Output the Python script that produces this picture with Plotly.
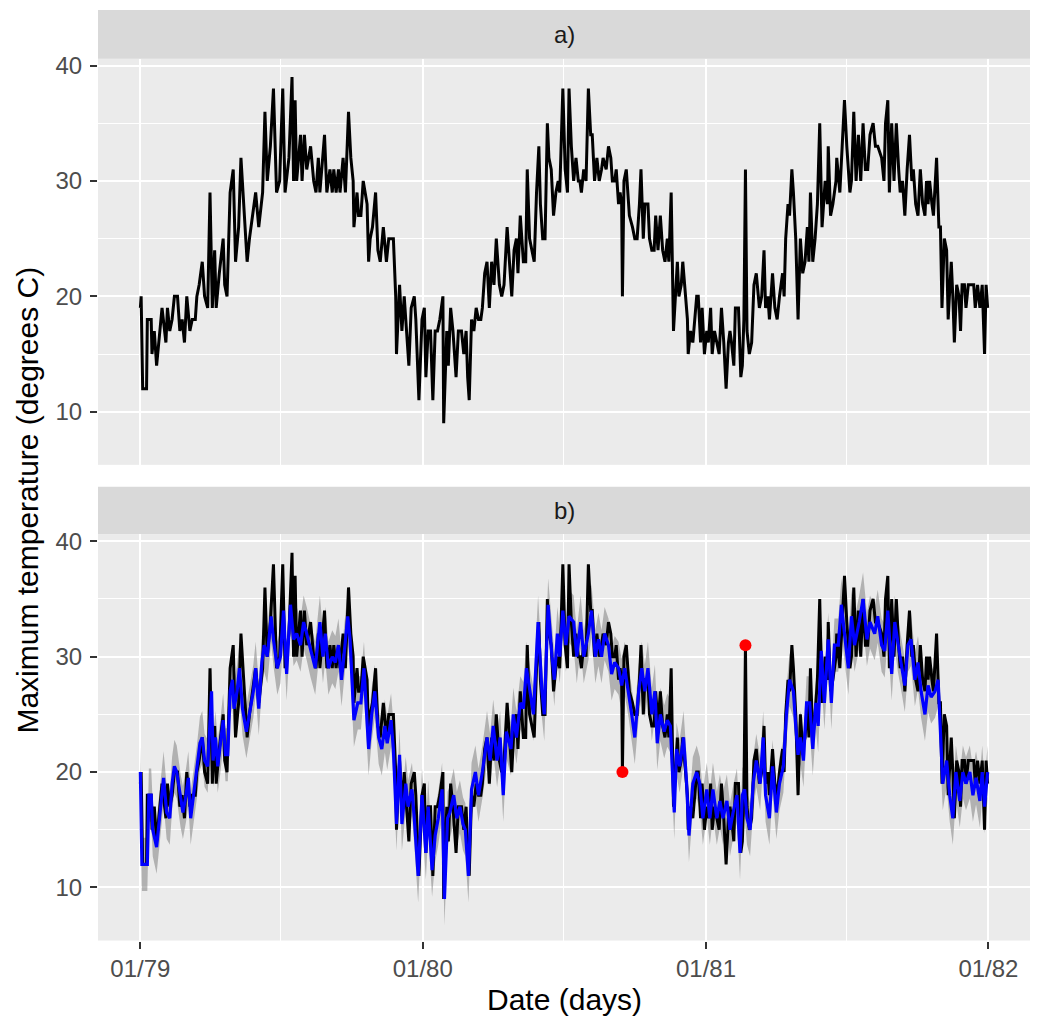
import pandas as pd
import plotly.graph_objects as go

# ---------------- data ----------------
start_date = "1979-01-01"

# observed daily maximum temperature: day offset from 1979-01-01 and value
obs_day = [
    0, 1, 3, 8, 9, 12, 14, 15, 18, 21, 25, 28, 33, 35, 38, 41, 44, 48, 51, 54,
    57, 60, 64, 67, 71, 73, 76, 80, 83, 87, 90, 93, 96, 98, 102, 107, 109, 112, 116, 120,
    123, 127, 130, 134, 138, 141, 145, 149, 153, 158, 161, 164, 168, 172, 176, 180, 184, 187, 192, 196,
    198, 200, 202, 207, 209, 212, 215, 220, 224, 227, 230, 232, 238, 241, 245, 248, 250, 253, 256, 258,
    262, 265, 269, 272, 275, 276, 280, 282, 285, 288, 293, 295, 297, 300, 304, 307, 310, 314, 318, 321,
    327, 330, 331, 335, 338, 341, 344, 347, 350, 354, 356, 360, 364, 367, 369, 372, 375, 378, 381, 384,
    387, 391, 392, 396, 398, 401, 404, 408, 411, 415, 418, 421, 423, 425, 428, 431, 434, 437, 440, 442,
    445, 448, 451, 454, 457, 460, 464, 467, 470, 474, 478, 480, 483, 486, 488, 491, 495, 498, 500, 503,
    506, 509, 512, 515, 517, 520, 523, 526, 528, 531, 534, 537, 540, 542, 546, 549, 552, 554, 557, 560,
    563, 566, 568, 570, 573, 576, 579, 582, 584, 587, 590, 593, 596, 598, 602, 605, 608, 610, 613, 615,
    618, 620, 622, 623, 625, 628, 632, 636, 639, 642, 645, 647, 650, 652, 656, 658, 661, 664, 666, 669,
    672, 675, 678, 681, 683, 686, 689, 692, 694, 696, 699, 701, 705, 707, 708, 711, 714, 719, 721, 724,
    726, 729, 732, 734, 737, 739, 742, 745, 748, 751, 754, 757, 760, 762, 764, 767, 769, 773, 776, 778,
    780, 782, 784, 787, 790, 793, 796, 800, 803, 806, 808, 811, 813, 817, 820, 823, 826, 830, 832, 834,
    837, 839, 842, 844, 847, 850, 853, 856, 859, 862, 864, 866, 869, 872, 875, 878, 881, 885, 888, 889,
    892, 895, 899, 900, 904, 907, 910, 913, 917, 919, 922, 925, 928, 931, 934, 937, 940, 943, 947, 950,
    953, 958, 961, 963, 966, 968, 971, 974, 977, 980, 982, 985, 988, 991, 994, 997, 999, 1002, 1005, 1008,
    1011, 1014, 1016, 1018, 1020, 1023, 1025, 1029, 1032, 1034, 1036, 1039, 1042, 1044, 1048, 1050, 1052, 1055, 1058, 1060,
    1062, 1065, 1067, 1070, 1074, 1077, 1079, 1082, 1085, 1088, 1091, 1093, 1095,
]
obs_val = [
    19, 20, 12, 12, 18, 18, 18, 15, 17, 14, 17, 19, 16, 19, 17, 18, 20, 20, 17, 18,
    16, 20, 17, 18, 18, 20, 21, 23, 20, 19, 29, 19, 24, 19, 22, 25, 21, 20, 29, 31,
    23, 26, 32, 27, 23, 25, 27, 29, 26, 29, 36, 30, 33, 38, 29, 30, 38, 29, 32, 39,
    30, 37, 30, 34, 30, 34, 31, 33, 30, 29, 32, 29, 34, 29, 31, 29, 31, 29, 31, 29,
    32, 29, 36, 32, 30, 26, 29, 27, 27, 30, 28, 23, 25, 26, 29, 24, 23, 26, 23, 25,
    25, 20, 15, 21, 17, 20, 17, 14, 19, 20, 18, 11, 18, 19, 13, 17, 17, 11, 17, 17,
    18, 20, 9, 17, 14, 19, 17, 13, 17, 17, 15, 17, 13, 11, 18, 17, 19, 18, 18, 19,
    22, 23, 19, 23, 21, 25, 21, 20, 21, 26, 22, 20, 24, 25, 22, 27, 23, 23, 31, 25,
    24, 23, 29, 33, 28, 25, 25, 35, 32, 31, 27, 29, 30, 29, 38, 31, 29, 38, 33, 30,
    32, 30, 30, 29, 31, 30, 38, 34, 34, 30, 32, 30, 31, 32, 31, 33, 32, 30, 30, 31,
    28, 29, 28, 20, 30, 31, 27, 26, 25, 25, 28, 31, 25, 28, 28, 25, 24, 24, 27, 24,
    27, 24, 23, 25, 23, 29, 17, 21, 23, 20, 21, 23, 20, 18, 15, 17, 16, 20, 20, 16,
    19, 15, 17, 16, 19, 15, 17, 16, 15, 19, 16, 12, 16, 17, 16, 14, 19, 19, 13, 14,
    18, 31, 17, 15, 16, 21, 22, 19, 20, 24, 19, 20, 18, 22, 19, 18, 20, 22, 20, 25,
    28, 27, 31, 29, 25, 18, 25, 22, 23, 26, 23, 29, 23, 25, 28, 35, 26, 30, 28, 33,
    27, 28, 30, 32, 29, 33, 37, 33, 29, 30, 36, 30, 34, 30, 35, 31, 31, 34, 35, 33,
    33, 32, 30, 35, 37, 29, 35, 30, 35, 31, 29, 30, 27, 31, 34, 30, 31, 28, 27, 31,
    28, 27, 30, 28, 30, 28, 27, 32, 26, 26, 19, 25, 24, 18, 23, 20, 16, 21, 20, 17,
    21, 21, 19, 21, 21, 21, 19, 21, 19, 21, 15, 21, 19,
]

# fitted values (blue line) : day offset and value
fit_day = [
    0, 2, 9, 11, 14, 16, 21, 26, 30, 34, 38, 41, 44, 47, 52, 55, 59, 62, 65, 69,
    73, 77, 80, 83, 87, 92, 94, 97, 100, 103, 107, 110, 113, 116, 119, 121, 125, 128, 132, 137,
    141, 146, 149, 153, 157, 160, 164, 169, 172, 177, 181, 185, 189, 194, 198, 202, 207, 211, 215, 220,
    226, 232, 236, 239, 243, 248, 252, 256, 260, 263, 268, 271, 276, 281, 285, 289, 295, 299, 303, 308,
    312, 316, 319, 324, 327, 331, 335, 338, 343, 346, 351, 354, 359, 364, 369, 372, 377, 381, 385, 390,
    393, 397, 400, 405, 409, 413, 417, 420, 424, 428, 433, 437, 442, 448, 452, 456, 461, 465, 469, 473,
    479, 482, 486, 491, 495, 499, 504, 508, 514, 519, 522, 527, 532, 535, 539, 542, 546, 550, 554, 560,
    564, 569, 573, 579, 583, 588, 592, 596, 600, 605, 609, 613, 618, 622, 626, 631, 635, 639, 644, 648,
    652, 656, 661, 665, 668, 672, 677, 681, 685, 690, 693, 697, 702, 706, 709, 714, 719, 723, 727, 732,
    736, 740, 745, 749, 753, 758, 762, 766, 771, 775, 778, 781, 784, 788, 792, 796, 801, 805, 808, 813,
    817, 822, 826, 831, 835, 839, 844, 847, 850, 853, 857, 861, 865, 869, 873, 876, 880, 884, 889, 893,
    897, 902, 906, 910, 915, 919, 923, 929, 934, 939, 943, 949, 953, 958, 962, 966, 971, 975, 979, 983,
    988, 992, 996, 1001, 1005, 1009, 1014, 1018, 1022, 1027, 1031, 1035, 1037, 1042, 1046, 1050, 1054, 1059, 1063, 1067,
    1072, 1076, 1080, 1085, 1088, 1091, 1095,
]
fit_val = [
    20, 12, 12, 18, 18, 15, 13.5, 17, 19.5, 16.5, 16, 19, 20.5, 20, 17.5, 16.5, 18, 19.5, 16, 18,
    20, 22.5, 23, 21, 20.5, 27, 21, 23, 20.5, 22, 24.5, 21.5, 21.5, 27, 28, 25.5, 27, 29, 25.5, 23.5,
    25, 27, 29, 25.5, 29.5, 31, 30, 33.5, 31.5, 29, 30, 34, 28.5, 34.5, 31.5, 32, 31, 33, 32, 30.5,
    29, 33, 30, 32, 29, 30, 29.5, 31, 28, 30, 33.5, 31.5, 24.5, 26, 26, 29, 22, 25, 27, 23,
    22, 24, 22.5, 24.5, 22, 15.5, 21.5, 15.5, 19, 17, 18.5, 16, 11, 18, 13, 17, 11.5, 14.5, 16, 18.5,
    9, 16, 16.5, 18, 16, 17, 15.5, 15, 11, 18.5, 20, 18, 20, 23, 21, 24, 21, 23, 18, 23.5,
    22, 25, 23, 26, 25.5, 29, 26.5, 25, 33, 27, 25, 34.5, 30, 28, 32, 30, 34, 31, 33.5, 33,
    30, 33, 30, 32, 34, 30, 31.5, 30, 32, 31, 28.5, 29.5, 29, 27.5, 29, 27, 25, 23, 27, 29,
    27, 29, 25, 27, 22.5, 25, 23.5, 24.5, 24, 16.5, 22, 20.5, 23, 19, 14.5, 19, 20, 19, 16, 18.5,
    16, 18.5, 16, 17.5, 16, 17.5, 15, 16.5, 18, 13, 18, 18.5, 16, 15, 19, 21, 19, 23, 18, 16,
    20.5, 16.5, 19, 20.5, 25, 28, 27, 24, 21.5, 23, 21, 26, 26, 22, 26, 24, 30.5, 26, 31.5, 26,
    31, 31, 34.5, 32, 29, 33.5, 31, 33, 35, 31.5, 33, 32, 33.5, 31, 30.5, 34, 28.5, 33, 31, 29.5,
    27.5, 31, 31.5, 28, 29.5, 27, 25, 27.5, 26.5, 27, 28, 22, 19, 21, 18, 16, 20, 17.5, 20, 19,
    20, 18, 19.5, 17.5, 20, 17, 20,
]

# half-width of the grey uncertainty band around the fitted values (degrees C)
band_halfwidth = 2.3

# observations flagged as outliers (red points)
outlier_day = [623, 782]
outlier_val = [20, 31]

panel_labels = ["a)", "b)"]
x_title = "Date (days)"
y_title = "Maximum temperature (degrees C)"
y_ticks = [10, 20, 30, 40]

# ---------------- build ----------------
base = pd.Timestamp(start_date)
obs_dates = [base + pd.Timedelta(days=d) for d in obs_day]
fit_dates = [base + pd.Timedelta(days=d) for d in fit_day]
out_dates = [base + pd.Timedelta(days=d) for d in outlier_day]
lower = [v - band_halfwidth for v in fit_val]
upper = [v + band_halfwidth for v in fit_val]

W, H = 1040, 1022
def px_x(p):
    return p / W
def px_y(p):
    return 1 - p / H

FONT = "Liberation Sans, Arial, sans-serif"
x_dom = [px_x(98), px_x(1030)]
strip_a = (3, 52)
strip_b = (483, 531)
ya_dom = [px_y(461), px_y(strip_a[1])]
yb_dom = [px_y(940), px_y(strip_b[1])]

end = pd.Timestamp("1981-12-31")
span = (end - base).days
pad = 0.05 * span
x_range = [base - pd.Timedelta(days=pad), end + pd.Timedelta(days=pad)]
y_range = [5.4, 40.6]

fig = go.Figure()

# panel a
fig.add_trace(go.Scatter(x=obs_dates, y=obs_val, mode="lines",
                         line=dict(color="black", width=3.0), xaxis="x", yaxis="y",
                         showlegend=False, hoverinfo="skip"))
# panel b: band
fig.add_trace(go.Scatter(x=fit_dates, y=lower, mode="lines", line=dict(width=0),
                         xaxis="x2", yaxis="y2", showlegend=False, hoverinfo="skip"))
fig.add_trace(go.Scatter(x=fit_dates, y=upper, mode="lines", line=dict(width=0),
                         fill="tonexty", fillcolor="rgba(120,120,120,0.5)",
                         xaxis="x2", yaxis="y2", showlegend=False, hoverinfo="skip"))
fig.add_trace(go.Scatter(x=obs_dates, y=obs_val, mode="lines",
                         line=dict(color="black", width=3.0), xaxis="x2", yaxis="y2",
                         showlegend=False, hoverinfo="skip"))
fig.add_trace(go.Scatter(x=fit_dates, y=fit_val, mode="lines",
                         line=dict(color="#0000FF", width=3.2), xaxis="x2", yaxis="y2",
                         showlegend=False, hoverinfo="skip"))
fig.add_trace(go.Scatter(x=out_dates, y=outlier_val, mode="markers",
                         marker=dict(color="#FF0000", size=12), xaxis="x2", yaxis="y2",
                         showlegend=False, hoverinfo="skip"))

grid_major = dict(showgrid=True, gridcolor="white", gridwidth=2.4, zeroline=False, showline=False)
tickfont = dict(family=FONT, size=24, color="#4D4D4D")

xcommon = dict(domain=x_dom, range=x_range, type="date", tick0=start_date, dtick="M12",
               minor=dict(dtick="M6", showgrid=True, gridcolor="white", gridwidth=1.2, ticks=""),
               **grid_major)
ycommon = dict(range=y_range, tickvals=y_ticks, ticks="outside", ticklen=7, tickwidth=2.2,
               tickcolor="#333333", tickfont=tickfont, ticklabelstandoff=3,
               minor=dict(dtick=5, tick0=0, showgrid=True, gridcolor="white", gridwidth=1.2, ticks=""),
               **grid_major)

fig.update_layout(
    width=W, height=H,
    margin=dict(l=0, r=0, t=0, b=0),
    paper_bgcolor="white",
    plot_bgcolor="#EBEBEB",
    xaxis=dict(anchor="y", showticklabels=False, ticks="", **xcommon),
    xaxis2=dict(anchor="y2", matches="x", showticklabels=True, ticks="outside", ticklen=7,
                tickwidth=2.2, tickcolor="#333333", tickformat="%m/%y", tickfont=tickfont,
                **xcommon),
    yaxis=dict(domain=ya_dom, anchor="x", **ycommon),
    yaxis2=dict(domain=yb_dom, anchor="x2", **ycommon),
    font=dict(family=FONT),
)

# facet strips
shapes = []
for (top, bot) in [strip_a, strip_b]:
    shapes.append(dict(type="rect", xref="paper", yref="paper",
                       x0=x_dom[0], x1=x_dom[1], y0=px_y(bot), y1=px_y(top),
                       fillcolor="#D9D9D9", line=dict(width=0), layer="below"))
fig.update_layout(shapes=shapes)

annotations = []
for lab, (top, bot) in zip(panel_labels, [strip_a, strip_b]):
    annotations.append(dict(text=lab, xref="paper", yref="paper", x=(x_dom[0] + x_dom[1]) / 2,
                            y=px_y((top + bot) / 2), showarrow=False, xanchor="center",
                            yanchor="middle",
                            font=dict(family=FONT, size=24, color="#1A1A1A")))
annotations.append(dict(text=x_title, xref="paper", yref="paper", x=(x_dom[0] + x_dom[1]) / 2,
                        y=px_y(999), showarrow=False, xanchor="center", yanchor="middle",
                        font=dict(family=FONT, size=30, color="black")))
annotations.append(dict(text=y_title, xref="paper", yref="paper", x=px_x(28),
                        y=px_y(497), showarrow=False, xanchor="center", yanchor="middle",
                        textangle=-90,
                        font=dict(family=FONT, size=30, color="black")))
fig.update_layout(annotations=annotations)

fig.write_html("out.html")
